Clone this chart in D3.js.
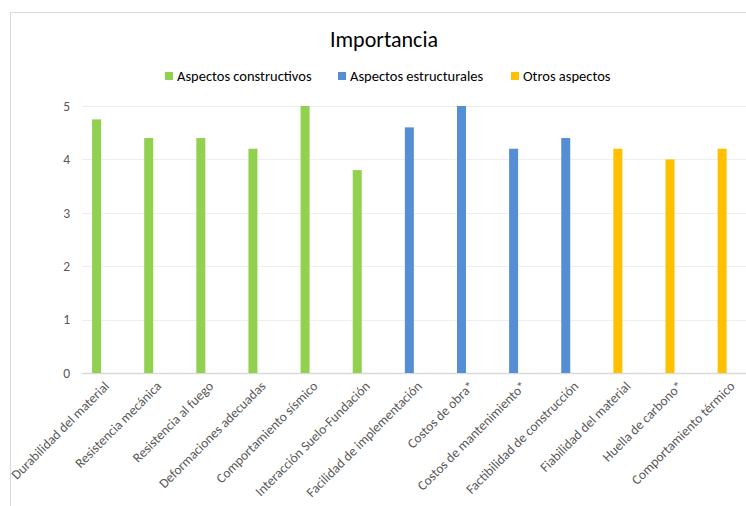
<!DOCTYPE html>
<html>
<head>
<meta charset="utf-8">
<script src="https://cdn.jsdelivr.net/npm/d3@7"></script>
<style>
  body { margin: 0; background: #fff; }
  svg { display: block; font-family: Calibri, Carlito, Lato, "Open Sans", sans-serif; }
</style>
</head>
<body>
<svg id="canvas" width="746" height="506"></svg>
<script>
const categories = [
  "Durabilidad del material", "Resistencia mecánica", "Resistencia al fuego",
  "Deformaciones adecuadas", "Comportamiento sísmico", "Interacción Suelo-Fundación",
  "Facilidad de implementación", "Costos de obra*", "Costos de mantenimiento*",
  "Factibilidad de construcción", "Fiabilidad del material", "Huella de carbono*",
  "Comportamiento térmico"
];
const groups = ["Aspectos constructivos", "Aspectos estructurales", "Otros aspectos"];
const groupOf = [0, 0, 0, 0, 0, 0, 1, 1, 1, 1, 2, 2, 2];
const values = [4.75, 4.4, 4.4, 4.2, 5, 3.8, 4.6, 5, 4.2, 4.4, 4.2, 4.0, 4.2];
const yTicks = [0, 1, 2, 3, 4, 5];
const colors = ["#92D050", "#558ED5", "#FFC000"];

const settings = {
  plot: { left: 82, top: 106, bottom: 373, band: 52.13 },
  barWidth: 9,
  barShift: -11.5,   // bars sit left of the category centre (empty series slots)
};

const svg = d3.select('#canvas');

// chart frame (cropped on the right and bottom like the original)
svg.append("rect")
  .attr("x", 10.5).attr("y", 12.5)
  .attr("width", 800).attr("height", 600)
  .attr("fill", "#fff")
  .attr("stroke", "#D9D9D9");

const x = d3.scaleBand()
  .domain(categories)
  .range([settings.plot.left, settings.plot.left + settings.plot.band * categories.length]);

const y = d3.scaleLinear()
  .domain([0, 5])
  .range([settings.plot.bottom, settings.plot.top]);

// gridlines
svg.append("g")
  .selectAll("line")
  .data(yTicks)
  .join("line")
  .attr("x1", settings.plot.left)
  .attr("x2", 760)
  .attr("y1", d => Math.round(y(d)) + 0.5)
  .attr("y2", d => Math.round(y(d)) + 0.5)
  .attr("stroke", d => d === 0 ? "#D9D9D9" : "#EFEFEF")
  .attr("stroke-width", d => d === 0 ? 1.5 : 1);

// y labels
svg.append("g")
  .selectAll("text")
  .data(yTicks)
  .join("text")
  .attr("x", 70)
  .attr("y", d => y(d))
  .attr("dy", "0.35em")
  .attr("text-anchor", "end")
  .attr("font-size", 13.5)
  .attr("fill", "#595959")
  .text(d => d);

// bars
svg.append("g")
  .selectAll("rect")
  .data(values)
  .join("rect")
  .attr("x", (d, i) => x(categories[i]) + x.bandwidth() / 2 + settings.barShift - settings.barWidth / 2)
  .attr("y", d => y(d))
  .attr("width", settings.barWidth)
  .attr("height", d => y(0) - y(d))
  .attr("fill", (d, i) => colors[groupOf[i]]);

// category labels
svg.append("g")
  .selectAll("text")
  .data(categories)
  .join("text")
  .attr("transform", d => `translate(${x(d) + x.bandwidth() / 2 + 2},${settings.plot.bottom + 14}) rotate(-45)`)
  .attr("text-anchor", "end")
  .attr("font-size", 13.5)
  .attr("fill", "#595959")
  .text(d => d);

// title
svg.append("text")
  .attr("x", 384)
  .attr("y", 47)
  .attr("text-anchor", "middle")
  .attr("font-size", 22)
  .attr("fill", "#000")
  .text("Importancia");

// legend
const legendX = [165, 338, 511];
const legend = svg.append("g")
  .selectAll("g")
  .data(groups)
  .join("g")
  .attr("transform", (d, i) => `translate(${legendX[i]},76)`);

legend.append("rect")
  .attr("x", 0).attr("y", -4)
  .attr("width", 8).attr("height", 8)
  .attr("fill", (d, i) => colors[i]);

legend.append("text")
  .attr("x", 12)
  .attr("dy", "0.35em")
  .attr("font-size", 14.5)
  .attr("fill", "#000")
  .text(d => d);
</script>
</body>
</html>
